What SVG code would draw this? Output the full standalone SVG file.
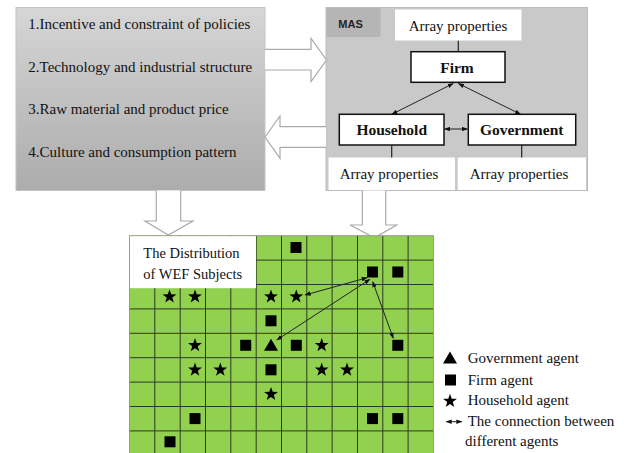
<svg xmlns="http://www.w3.org/2000/svg" xmlns:xlink="http://www.w3.org/1999/xlink" width="626" height="453" viewBox="0 0 626 453">
<style>
.t{font-family:"Liberation Serif","Times New Roman",serif;font-size:15px;fill:#111}
.b{font-family:"Liberation Serif","Times New Roman",serif;font-size:15.5px;font-weight:bold;fill:#111}
.blk{fill:#fff;stroke:#aaa;stroke-width:1.2}
.node{fill:#fff;stroke:#111;stroke-width:1.5}
.ln{stroke:#222;stroke-width:1.2;fill:none}
.dbl{stroke:#222;stroke-width:1;fill:none;marker-start:url(#ah);marker-end:url(#ah)}
.grid{stroke:#2d3a22;stroke-width:1;fill:none}
</style>
<defs>
<linearGradient id="gr" x1="0" y1="0" x2="0" y2="1">
<stop offset="0" stop-color="#d6d6d6"/>
<stop offset="1" stop-color="#acacac"/>
</linearGradient>
<marker id="ah" viewBox="0 0 8 6" refX="7.5" refY="3" markerWidth="6" markerHeight="4.5" markerUnits="userSpaceOnUse" orient="auto-start-reverse">
<path d="M0,0 L8,3 L0,6 Z" fill="#111"/>
</marker>
<rect id="sq" x="-5.5" y="-5.5" width="11" height="11" fill="#000"/>
<path id="st" d="M0,-7.3 L1.72,-2.36 L6.94,-2.26 L2.77,0.9 L4.29,5.91 L0,2.92 L-4.29,5.91 L-2.77,0.9 L-6.94,-2.26 L-1.72,-2.36 Z" fill="#000"/>
<path id="tr" d="M0,-6.5 L7,5.5 L-7,5.5 Z" fill="#000"/>
</defs>

<g id="factors">
<rect x="16" y="7.5" width="249" height="183" fill="url(#gr)" stroke="#c4c4c4" stroke-width="1"/>
<text class="t" x="28.3" y="29">1.Incentive and constraint of policies</text>
<text class="t" x="28.3" y="72">2.Technology and industrial structure</text>
<text class="t" x="28.3" y="113.5">3.Raw material and product price</text>
<text class="t" x="28.3" y="157">4.Culture and consumption pattern</text>
</g>

<g id="mas">
<rect x="326" y="7.5" width="261.5" height="183" fill="#c9c9c9" stroke="#bdbdbd" stroke-width="1"/>
<rect x="326.5" y="8" width="54" height="29" fill="#b5b5b5"/>
<text x="338.3" y="28" style="font-family:'Liberation Sans',Arial,sans-serif;font-size:11px;font-weight:bold;fill:#222">MAS</text>
</g>

<g id="array-top">
<rect x="395" y="9.5" width="126.5" height="31" fill="#fff"/>
<text class="t" x="458" y="30.7" text-anchor="middle">Array properties</text>
</g>
<g id="array-left">
<rect x="328.5" y="157.5" width="126.5" height="32.5" fill="#fff"/>
<text class="t" x="389" y="178.5" text-anchor="middle">Array properties</text>
</g>
<g id="array-right">
<rect x="457.7" y="157.5" width="128.3" height="32.5" fill="#fff"/>
<text class="t" x="519" y="178.5" text-anchor="middle">Array properties</text>
</g>

<g id="firm">
<rect class="node" x="411" y="51.7" width="94" height="30.6"/>
<text class="b" x="457" y="72.7" text-anchor="middle">Firm</text>
</g>
<g id="household">
<rect class="node" x="339.3" y="114.3" width="104.7" height="30.7"/>
<text class="b" x="391.7" y="135" text-anchor="middle">Household</text>
</g>
<g id="government">
<rect class="node" x="468.3" y="114.3" width="107.4" height="30.7"/>
<text class="b" x="521.7" y="135" text-anchor="middle">Government</text>
</g>

<g id="connectors">
<path class="blk" d="M265,49.3 H311 V38.3 L326.5,60 L311,81.7 V70 H265"/>
<path class="blk" d="M326,126.7 H280 V116 L265,137 L280,158.3 V147.3 H326"/>
<path class="blk" d="M156.3,190.5 V221 H145 L168.3,235 L193,221 H180.7 V190.5"/>
<path class="blk" d="M362.3,190.5 V225 H350 L374.3,237.7 L396.7,225 H385.7 V190.5"/>
<line class="ln" x1="458.3" y1="40.7" x2="458.3" y2="51.7"/>
<line class="ln" x1="391.7" y1="145" x2="391.7" y2="157.5"/>
<line class="ln" x1="521.7" y1="145" x2="521.7" y2="157.5"/>
<line class="dbl" x1="453.3" y1="83.5" x2="391.7" y2="114.3"/>
<line class="dbl" x1="458.3" y1="83.5" x2="520.7" y2="114.3"/>
<line class="dbl" x1="444.5" y1="129" x2="467.5" y2="129"/>
</g>

<g id="grid-map">
<rect x="129.5" y="235.7" width="304" height="220" fill="#92d050"/>
<path class="grid" d="M154.8,235.7V453 M180.2,235.7V453 M205.5,235.7V453 M230.8,235.7V453 M256.2,235.7V453 M281.5,235.7V453 M306.8,235.7V453 M332.1,235.7V453 M357.5,235.7V453 M382.8,235.7V453 M408.1,235.7V453 M129.5,260.1H433.5 M129.5,284.5H433.5 M129.5,308.9H433.5 M129.5,333.3H433.5 M129.5,357.7H433.5 M129.5,382.1H433.5 M129.5,406.5H433.5 M129.5,430.9H433.5"/>
<rect x="129.5" y="235.7" width="304" height="220" fill="none" stroke="#9a9a9a" stroke-width="1"/>
<rect x="130" y="236.2" width="126" height="52" fill="#fff"/>
<text class="t" x="143.3" y="258.3" style="font-size:14.5px">The Distribution</text>
<text class="t" x="143.3" y="279.3" style="font-size:14.5px">of WEF Subjects</text>
</g>

<g id="agents">
<use xlink:href="#sq" x="296" y="247.5"/>
<use xlink:href="#sq" x="372.5" y="272"/>
<use xlink:href="#sq" x="397.8" y="272"/>
<use xlink:href="#st" x="169.5" y="296.7"/>
<use xlink:href="#st" x="195" y="296.7"/>
<use xlink:href="#st" x="271" y="296.7"/>
<use xlink:href="#st" x="296.3" y="296.7"/>
<use xlink:href="#sq" x="271" y="320.8"/>
<use xlink:href="#st" x="195" y="345.3"/>
<use xlink:href="#sq" x="245.7" y="345.3"/>
<use xlink:href="#tr" x="271" y="345.3"/>
<use xlink:href="#sq" x="296.3" y="345.3"/>
<use xlink:href="#st" x="321.7" y="345.3"/>
<use xlink:href="#sq" x="397.8" y="345.3"/>
<use xlink:href="#st" x="195" y="369.8"/>
<use xlink:href="#st" x="220.3" y="369.8"/>
<use xlink:href="#sq" x="271" y="369.8"/>
<use xlink:href="#st" x="321.7" y="369.8"/>
<use xlink:href="#st" x="347" y="369.8"/>
<use xlink:href="#st" x="271" y="394.2"/>
<use xlink:href="#sq" x="195" y="418.6"/>
<use xlink:href="#sq" x="372.5" y="418.6"/>
<use xlink:href="#sq" x="397.8" y="418.6"/>
<use xlink:href="#sq" x="170" y="441.8"/>
</g>

<g id="agent-links">
<line class="dbl" x1="367.3" y1="277.7" x2="305" y2="295"/>
<line class="dbl" x1="370" y1="279.3" x2="276.7" y2="340"/>
<line class="dbl" x1="372.7" y1="281.7" x2="393.3" y2="338.3"/>
</g>

<g id="legend">
<use xlink:href="#tr" x="450" y="358"/>
<text class="t" x="467.7" y="363.3">Government agent</text>
<use xlink:href="#sq" x="450.5" y="380"/>
<text class="t" x="467.7" y="384.5">Firm agent</text>
<use xlink:href="#st" x="450" y="401"/>
<text class="t" x="467.7" y="405">Household agent</text>
<line class="dbl" x1="446" y1="421.7" x2="462" y2="421.7"/>
<text class="t" x="467.7" y="425.5">The connection between</text>
<text class="t" x="465" y="446">different agents</text>
</g>
</svg>
